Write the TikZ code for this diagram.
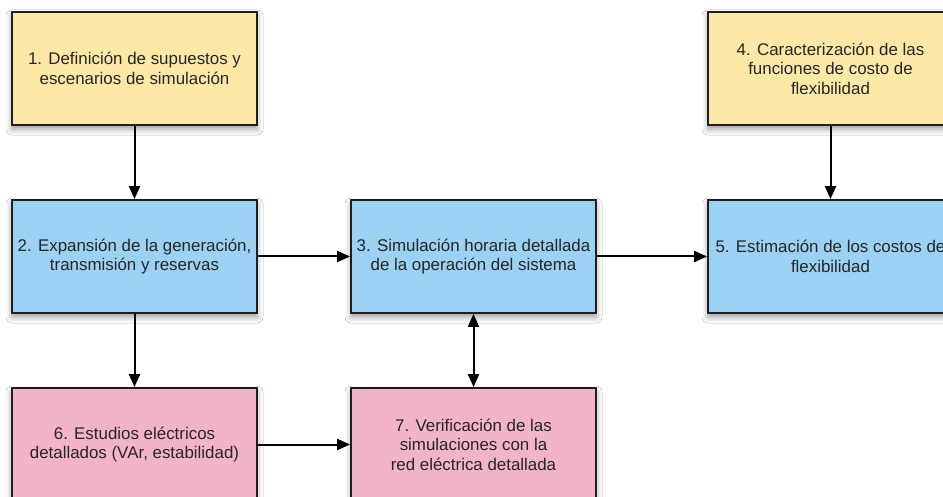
\documentclass[tikz,border=0pt]{standalone}
\usepackage{fontspec}
\setmainfont{Liberation Sans}
\usetikzlibrary{arrows.meta,shadows.blur}
\definecolor{boxyellow}{HTML}{FDE8A6}
\definecolor{boxblue}{HTML}{9BD1F2}
\definecolor{boxpink}{HTML}{F3B4C7}
\definecolor{edge}{HTML}{1E1E1E}
\begin{document}
\begin{tikzpicture}[x=1pt,y=-1pt,
  stagebox/.style={draw=edge, line width=1.8pt, minimum width=245pt, minimum height=113pt,
    align=center, font=\fontsize{16.9}{19.6}\selectfont, text=black!85, inner sep=0pt,
    blur shadow={shadow xshift=0pt, shadow yshift=-4pt, shadow blur radius=6pt, shadow opacity=40}},
  tip/.style={Triangle[length=13pt,width=11pt]},
  flow/.style={draw=black, line width=2pt, -{Triangle[length=13pt,width=11pt]}},
  flowboth/.style={draw=black, line width=2pt, {Triangle[length=13pt,width=11pt]}-{Triangle[length=13pt,width=11pt]}}]
\useasboundingbox[fill=white] (0,0) rectangle (943,497);

\node[stagebox, fill=boxyellow] (s1) at (134.5,68.5) {1. Definición de supuestos y\\escenarios de simulación};
\node[stagebox, fill=boxyellow] (s4) at (830.5,68.5) {4. Caracterización de las\\funciones de costo de\\flexibilidad};
\node[stagebox, fill=boxblue] (s2) at (134.5,256.5) {2. Expansión de la generación,\\transmisión y reservas};
\node[stagebox, fill=boxblue] (s3) at (473.5,256.5) {3. Simulación horaria detallada\\de la operación del sistema};
\node[stagebox, fill=boxblue] (s5) at (830.5,256.5) {5. Estimación de los costos de\\flexibilidad};
\node[stagebox, fill=boxpink] (s6) at (134.5,444.5) {6. Estudios eléctricos\\detallados (VAr, estabilidad)};
\node[stagebox, fill=boxpink] (s7) at (473.5,444.5) {7. Verificación de las\\simulaciones con la\\red eléctrica detallada};

\draw[flow] (s1) -- (s2);
\draw[flow] (s4) -- (s5);
\draw[flow] (s2) -- (s3);
\draw[flow] (s3) -- (s5);
\draw[flow] (s2) -- (s6);
\draw[flow] (s6) -- (s7);
\draw[flowboth] (s3) -- (s7);
\end{tikzpicture}
\end{document}
